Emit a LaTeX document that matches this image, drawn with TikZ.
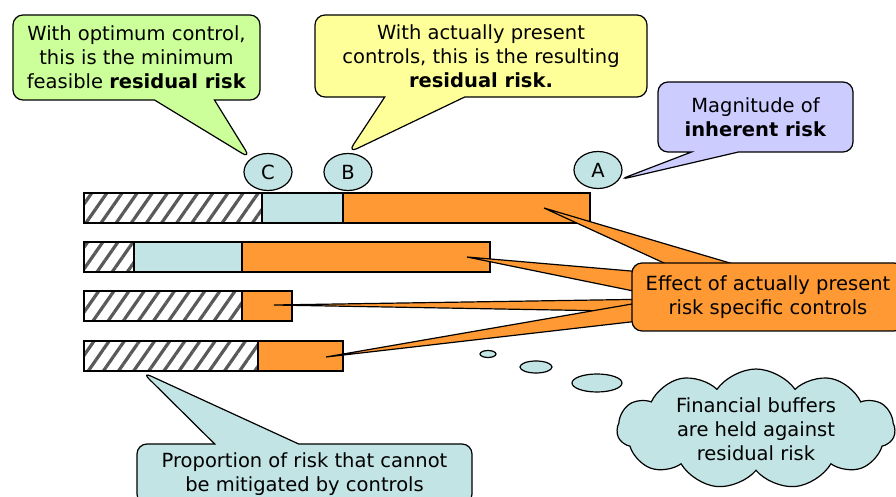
\documentclass[tikz,border=0pt]{standalone}
\usepackage{fontspec}
\setmainfont{DejaVu Sans}
\usetikzlibrary{shapes.callouts,shapes.geometric,shapes.symbols,patterns.meta,backgrounds,calc}
\definecolor{bubblegreen}{HTML}{CCFF99}
\definecolor{bubbleyellow}{HTML}{FFFF99}
\definecolor{bubblelilac}{HTML}{CCCCFF}
\definecolor{riskorange}{HTML}{FF9933}
\definecolor{ctrlblue}{HTML}{C2E4E4}
\begin{document}
\begin{tikzpicture}[x=0.5pt,y=-0.5pt,
  txt/.style={font=\fontsize{9.75}{12}\selectfont,align=center},
  bubble/.style={txt,rectangle callout,draw=black,line width=0.6pt,rounded corners=5pt,inner sep=0pt},
  marker/.style={txt,ellipse,draw=black,line width=0.6pt,fill=ctrlblue,minimum width=24pt,minimum height=18.5pt,inner sep=0pt},
  puff/.style={ellipse,draw=black,line width=0.6pt,fill=ctrlblue,inner sep=0pt},
  hatched/.style={draw=black,line width=0.6pt,pattern={Lines[angle=55,distance=6.2pt,line width=1.6pt]},pattern color=black!65},
  wedge/.style={fill=riskorange,draw=black,line width=0.6pt,line join=bevel}]
        \def \barh{30};
        \def \barx{84};
        \useasboundingbox (0,0) rectangle (896,497);
        \clip (0,0) rectangle (896,497);
        \node[txt,draw=black,line width=0.6pt,fill=riskorange,rounded corners=5pt,minimum width=136pt,minimum height=34pt] (effect) at (768,297) {Effect of actually present\\risk specific controls};
        \begin{scope}[on background layer]
        \foreach \ytop/\xh/\xb/\xo in {193/262/343/590, 242/134/242/490, 291/242/242/292, 341/258/258/343}
        {\draw[hatched] (\barx,\ytop) rectangle (\xh,\ytop+\barh);
         \draw[line width=0.6pt,fill=ctrlblue] (\xh,\ytop) rectangle (\xb,\ytop+\barh);
         \draw[line width=0.6pt,fill=riskorange] (\xb,\ytop) rectangle (\xo,\ytop+\barh);
        }
        \coordinate (tip1) at (544,208);
        \coordinate (tip2) at (467,257);
        \coordinate (tip3) at (274,305);
        \coordinate (tip4) at (326,357);
        \foreach \t/\ax/\ay/\bx/\by in {1/40/4/110/4, 2/4/9/4/29, 3/4/37/4/49, 4/4/41/4/59}
        \draw[wedge] (tip\t) -- ($(effect.north west)+(\ax,\ay)$) -- ($(effect.north west)+(\bx,\by)$) -- cycle;
        \end{scope}
        \node[marker] (markC) at (268,172) {C};
        \node[marker] (markB) at (348,172) {B};
        \node[marker] (markA) at (598,170) {A};
        \coordinate (unmitigated) at (142,372);
        \node[bubble,fill=bubblegreen,minimum width=123.5pt,minimum height=42.5pt,callout absolute pointer={(markC.north west)},callout pointer width=30pt] (optimum) at (136.5,57.5) {With optimum control,\\this is the minimum\\feasible \textbf{residual risk}};
        \node[bubble,fill=bubbleyellow,minimum width=166pt,minimum height=41pt,callout absolute pointer={(markB.north)},callout pointer width=40pt] (present) at (481,56) {With actually present\\controls, this is the resulting\\\textbf{residual risk.}};
        \node[bubble,fill=bubblelilac,minimum width=97.5pt,minimum height=35pt,callout absolute pointer={(markA.-25)},callout pointer width=23.5pt] (inherent) at (755.5,117) {Magnitude of\\\textbf{inherent risk}};
        \node[bubble,fill=ctrlblue,minimum width=167.5pt,minimum height=30pt,callout absolute pointer={(unmitigated)},callout pointer width=42pt] (proportion) at (304.5,474) {Proportion of risk that cannot\\be mitigated by controls};
        \node[txt,cloud,draw=black,line width=0.6pt,fill=ctrlblue,cloud puffs=11,cloud puff arc=110,aspect=2.5,minimum width=139pt,minimum height=56pt,inner sep=0pt] (buffers) at (756,429) {Financial buffers\\are held against\\residual risk};
        \node[puff,minimum width=25pt,minimum height=9pt] (puff1) at (597,383) {};
        \node[puff,minimum width=16pt,minimum height=6pt] (puff2) at (536,367) {};
        \node[puff,minimum width=8pt,minimum height=3.5pt] (puff3) at (488,354) {};
\end{tikzpicture}
\end{document}
